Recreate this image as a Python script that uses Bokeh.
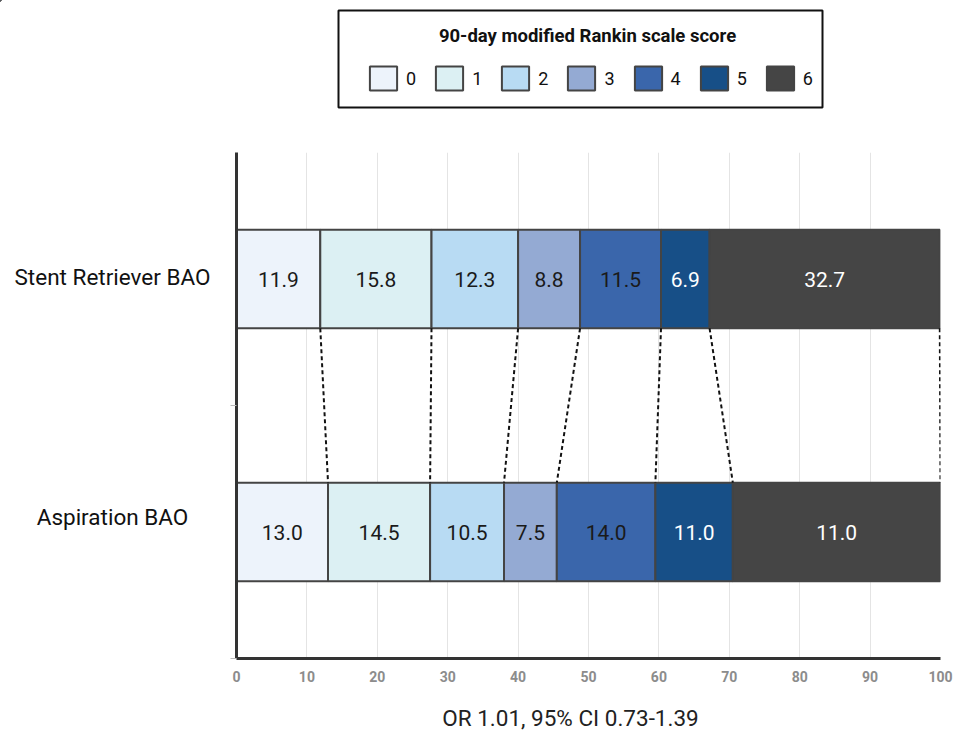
from bokeh.plotting import figure
from bokeh.layouts import column, row
from bokeh.models import Legend, LegendItem, FixedTicker, ColumnDataSource, Range1d
from bokeh.core.properties import value
from bokeh.embed import file_html
from bokeh.resources import INLINE

# ---- data ----
groups = ["Aspiration BAO", "Stent Retriever BAO"]
scores = ["0", "1", "2", "3", "4", "5", "6"]
colors = ["#edf3fb", "#dcf0f3", "#b8dbf3", "#94aad3", "#3a66ab", "#174f87", "#454545"]
label_colors = ["#1a1a1a", "#1a1a1a", "#1a1a1a", "#1a1a1a", "#1a1a1a", "white", "white"]
stent_values = [11.9, 15.8, 12.3, 8.8, 11.5, 6.9, 32.7]
aspiration_values = [13.0, 14.5, 10.5, 7.5, 14.0, 11.0, 29.5]
stent_labels = ["11.9", "15.8", "12.3", "8.8", "11.5", "6.9", "32.7"]
aspiration_labels = ["13.0", "14.5", "10.5", "7.5", "14.0", "11.0", "11.0"]
x_ticks = [0, 10, 20, 30, 40, 50, 60, 70, 80, 90, 100]
x_title = "OR 1.01, 95% CI 0.73-1.39"
legend_title = "90-day modified Rankin scale score"

FONT = "Roboto"
W = 957
y_pos = {"Aspiration BAO": 0.5, "Stent Retriever BAO": 1.5}
label_dy = {"Aspiration BAO": 0.058, "Stent Retriever BAO": 0.008}
bar_h = 0.39


def cumulative(vals):
    out, s = [], 0.0
    for v in vals:
        s += v
        out.append(s)
    return out


stent_right = cumulative(stent_values)
asp_right = cumulative(aspiration_values)
stent_left = [r - v for r, v in zip(stent_right, stent_values)]
asp_left = [r - v for r, v in zip(asp_right, aspiration_values)]

yr = Range1d(0, 2)


def blank(fig):
    fig.outline_line_color = None
    fig.grid.grid_line_color = None
    return fig


# ---------------- main chart ----------------
p = figure(width=731, height=536, x_range=Range1d(0, 100), y_range=yr,
           output_backend="svg", toolbar_location=None,
           min_border_left=10, min_border_right=17,
           min_border_top=0, min_border_bottom=30)
p.outline_line_color = None

p.xgrid.grid_line_color = "#e4e4e4"
p.xgrid.grid_line_width = 1
p.ygrid.grid_line_color = None

p.xaxis.ticker = FixedTicker(ticks=x_ticks)
p.xaxis.major_tick_line_color = None
p.xaxis.major_tick_out = 0
p.xaxis.major_tick_in = 0
p.xaxis.minor_tick_line_color = None
p.xaxis.axis_line_color = "#333333"
p.xaxis.axis_line_width = 3
p.xaxis.major_label_text_color = "#8c8c8c"
p.xaxis.major_label_text_font = FONT
p.xaxis.major_label_text_font_style = "bold"
p.xaxis.major_label_text_font_size = "14px"
p.xaxis.major_label_standoff = 12

p.yaxis.ticker = FixedTicker(ticks=[0, 1])
p.yaxis.major_label_overrides = {0: "", 1: ""}
p.yaxis.major_label_standoff = 0
p.yaxis.major_tick_in = 0
p.yaxis.major_tick_out = 6
p.yaxis.major_tick_line_color = "#bbbbbb"
p.yaxis.minor_tick_line_color = None
p.yaxis.axis_line_color = "#333333"
p.yaxis.axis_line_width = 3

for i, s in enumerate(scores):
    src = ColumnDataSource(dict(
        y=[y_pos["Aspiration BAO"], y_pos["Stent Retriever BAO"]],
        left=[asp_left[i], stent_left[i]],
        right=[asp_right[i], stent_right[i]],
    ))
    p.hbar(y="y", left="left", right="right", height=bar_h, source=src,
           fill_color=colors[i], line_color="#444444", line_width=2)

p.segment(x0=stent_right, y0=[y_pos["Stent Retriever BAO"] - bar_h / 2] * len(stent_right),
          x1=asp_right, y1=[y_pos["Aspiration BAO"] + bar_h / 2] * len(asp_right),
          line_color="#111111", line_width=2, line_dash="4 3")

tx, ty, tt, tc = [], [], [], []
for i in range(len(scores)):
    tx.append((stent_left[i] + stent_right[i]) / 2)
    ty.append(y_pos["Stent Retriever BAO"])
    tt.append(stent_labels[i])
    tc.append(label_colors[i])
    tx.append((asp_left[i] + asp_right[i]) / 2)
    ty.append(y_pos["Aspiration BAO"])
    tt.append(aspiration_labels[i])
    tc.append(label_colors[i])
p.text(x=tx, y=ty, text=tt, text_color=tc, text_font=value(FONT),
       text_font_size="21px", text_align="center", text_baseline="middle")

# ---------------- group labels (left) ----------------
pl = blank(figure(width=226, height=536, x_range=Range1d(0, 226), y_range=yr,
                  output_backend="svg", toolbar_location=None,
                  x_axis_location=None, y_axis_location=None,
                  min_border_left=0, min_border_right=0,
                  min_border_top=0, min_border_bottom=30))
pl.text(x=[112] * len(groups), y=[y_pos[g] + label_dy[g] for g in groups], text=groups,
        text_font=value(FONT), text_font_size="22.5px", text_color="#111111",
        text_align="center", text_baseline="middle")

# ---------------- legend (top) ----------------
pg = blank(figure(width=W, height=152, x_range=Range1d(0, W), y_range=Range1d(152, 0),
                  output_backend="svg", toolbar_location=None,
                  x_axis_location=None, y_axis_location=None,
                  min_border_left=0, min_border_right=0,
                  min_border_top=0, min_border_bottom=0))
pg.quad(left=[338], right=[822], top=[10], bottom=[107],
        fill_color="white", line_color="#111111", line_width=2)
pg.text(x=[587], y=[35], text=[legend_title], text_font=value(FONT),
        text_font_style="bold", text_font_size="18.5px", text_color="#111111",
        text_align="center", text_baseline="middle")
items = []
for i, s in enumerate(scores):
    r = pg.hbar(y=[-50], left=[-100], right=[-90], height=5,
                fill_color=colors[i], line_color="#444444", line_width=2)
    items.append(LegendItem(label=s, renderers=[r]))

legend = Legend(items=items, orientation="horizontal", location=(366, 59),
                label_text_font=FONT, label_text_font_size="18px", label_text_color="#111111",
                glyph_width=34, glyph_height=30, label_standoff=6, label_width=10,
                spacing=16, padding=0, margin=0,
                border_line_color=None, background_fill_alpha=0.0)
pg.add_layout(legend)

# ---------------- x-axis title (bottom) ----------------
pb = blank(figure(width=W, height=43, x_range=Range1d(0, W), y_range=Range1d(43, 0),
                  output_backend="svg", toolbar_location=None,
                  x_axis_location=None, y_axis_location=None,
                  min_border_left=0, min_border_right=0,
                  min_border_top=0, min_border_bottom=0))
pb.text(x=[570], y=[29], text=[x_title], text_font=value(FONT),
        text_font_size="22.5px", text_color="#222222",
        text_align="center", text_baseline="middle")

layout = column(pg, row(pl, p), pb)
open("out.html", "w").write(file_html(layout, INLINE))
